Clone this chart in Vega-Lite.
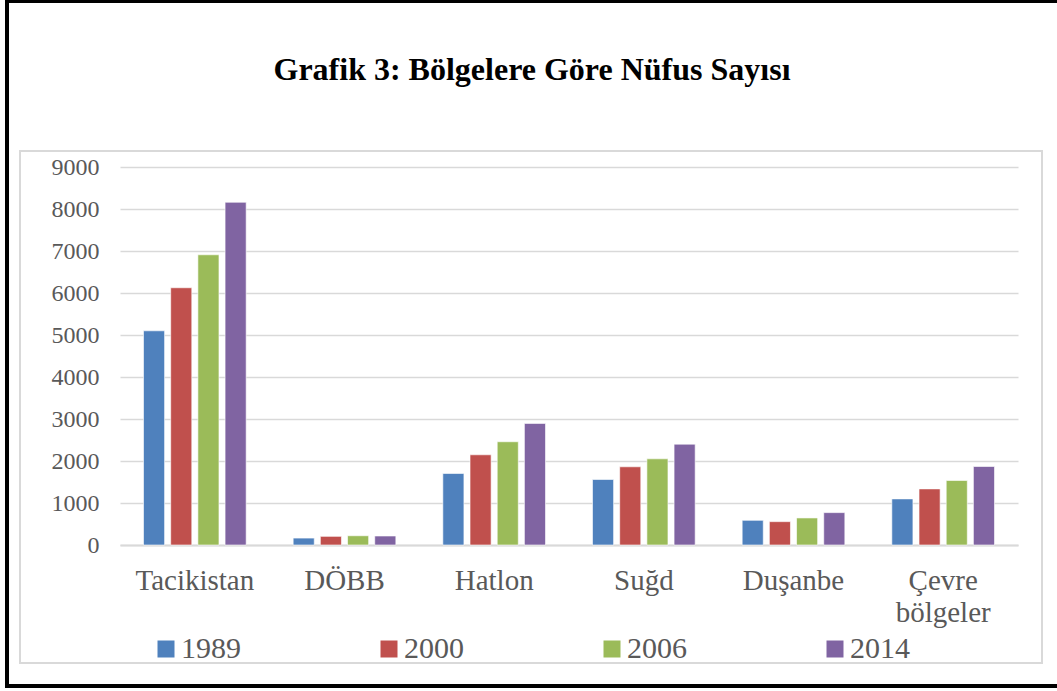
{
  "$schema": "https://vega.github.io/schema/vega-lite/v6.json",
  "autosize": {"type": "none"},
  "width": 898,
  "height": 378,
  "padding": {"left": 120, "top": 167, "right": 39, "bottom": 146},
  "background": "white",
  "config": {
    "view": {"stroke": null},
    "font": "Liberation Serif"
  },
  "title": {
    "text": "Grafik 3: Bölgelere Göre Nüfus Sayısı",
    "font": "Liberation Serif",
    "fontSize": 32,
    "fontWeight": "bold",
    "color": "#000000",
    "anchor": "middle",
    "frame": "group",
    "baseline": "alphabetic",
    "offset": -112,
    "dx": -37
  },
  "data": {
    "values": [
      {"bolge": "Tacikistan", "yil": "1989", "nufus": 5100},
      {"bolge": "Tacikistan", "yil": "2000", "nufus": 6125},
      {"bolge": "Tacikistan", "yil": "2006", "nufus": 6910},
      {"bolge": "Tacikistan", "yil": "2014", "nufus": 8160},
      {"bolge": "DÖBB", "yil": "1989", "nufus": 165},
      {"bolge": "DÖBB", "yil": "2000", "nufus": 206},
      {"bolge": "DÖBB", "yil": "2006", "nufus": 220},
      {"bolge": "DÖBB", "yil": "2014", "nufus": 214},
      {"bolge": "Hatlon", "yil": "1989", "nufus": 1702},
      {"bolge": "Hatlon", "yil": "2000", "nufus": 2148},
      {"bolge": "Hatlon", "yil": "2006", "nufus": 2458},
      {"bolge": "Hatlon", "yil": "2014", "nufus": 2895},
      {"bolge": "Suğd", "yil": "1989", "nufus": 1559},
      {"bolge": "Suğd", "yil": "2000", "nufus": 1862},
      {"bolge": "Suğd", "yil": "2006", "nufus": 2052},
      {"bolge": "Suğd", "yil": "2014", "nufus": 2401},
      {"bolge": "Duşanbe", "yil": "1989", "nufus": 588},
      {"bolge": "Duşanbe", "yil": "2000", "nufus": 556},
      {"bolge": "Duşanbe", "yil": "2006", "nufus": 644},
      {"bolge": "Duşanbe", "yil": "2014", "nufus": 771},
      {"bolge": "Çevre bölgeler", "yil": "1989", "nufus": 1098},
      {"bolge": "Çevre bölgeler", "yil": "2000", "nufus": 1336},
      {"bolge": "Çevre bölgeler", "yil": "2006", "nufus": 1535},
      {"bolge": "Çevre bölgeler", "yil": "2014", "nufus": 1869}
    ]
  },
  "layer": [
    {
      "mark": {"type": "rect", "fill": null, "stroke": "#000000", "strokeWidth": 3},
      "encoding": {
        "x": {"value": -113},
        "x2": {"value": 945},
        "y": {"value": -166},
        "y2": {"value": 519}
      }
    },
    {
      "mark": {"type": "rect", "fill": null, "stroke": "#d9d9d9", "strokeWidth": 2},
      "encoding": {
        "x": {"value": -100},
        "x2": {"value": 922},
        "y": {"value": -16},
        "y2": {"value": 496}
      }
    },
    {
      "mark": {"type": "bar", "stroke": "#ffffff", "strokeOpacity": 0.6, "strokeWidth": 1},
      "encoding": {
        "x": {
          "field": "bolge",
          "type": "nominal",
          "sort": null,
          "scale": {"paddingInner": 0.314, "paddingOuter": 0.157},
          "axis": {
            "title": null,
            "labelAngle": 0,
            "labelFont": "Liberation Serif",
            "labelFontSize": 29,
            "labelColor": "#595959",
            "labelPadding": 21,
            "labelLineHeight": 32,
            "labelExpr": "split(datum.label, ' ')",
            "ticks": false,
            "domainColor": "#d9d9d9",
            "domainWidth": 2,
            "grid": false
          }
        },
        "xOffset": {
          "field": "yil",
          "type": "nominal",
          "scale": {"paddingInner": 0.224, "paddingOuter": 0}
        },
        "y": {
          "field": "nufus",
          "type": "quantitative",
          "scale": {"domain": [0, 9000]},
          "axis": {
            "title": null,
            "values": [0, 1000, 2000, 3000, 4000, 5000, 6000, 7000, 8000, 9000],
            "format": "d",
            "labelFont": "Liberation Serif",
            "labelFontSize": 24,
            "labelColor": "#595959",
            "labelPadding": 21,
            "ticks": false,
            "domain": false,
            "gridColor": "#d9d9d9",
            "gridWidth": 1.5
          }
        },
        "color": {
          "field": "yil",
          "type": "nominal",
          "scale": {
            "domain": ["1989", "2000", "2006", "2014"],
            "range": ["#4f81bd", "#c0504d", "#9bbb59", "#8064a2"]
          },
          "legend": {
            "title": null,
            "orient": "none",
            "legendX": 31,
            "legendY": 467,
            "direction": "horizontal",
            "columns": 4,
            "columnPadding": 133,
            "padding": 0,
            "symbolType": "square",
            "symbolSize": 289,
            "symbolStrokeWidth": 0,
            "labelFont": "Liberation Serif",
            "labelFontSize": 30,
            "labelColor": "#595959",
            "labelOffset": 0
          }
        }
      }
    }
  ]
}
